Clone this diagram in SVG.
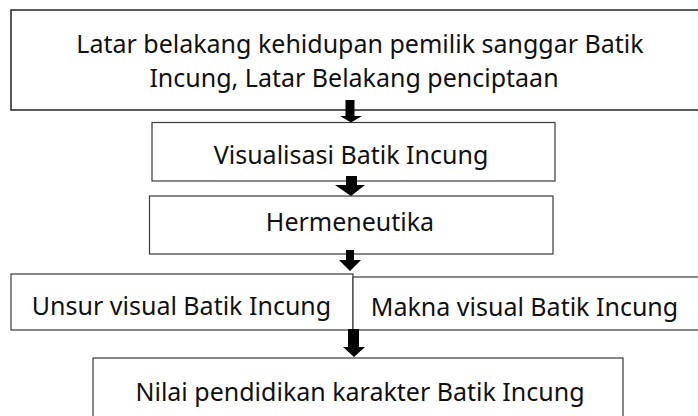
<svg xmlns="http://www.w3.org/2000/svg" width="698" height="416" viewBox="0 0 698 416">
<style>
.box{fill:#fff;stroke:#3a3a3a;stroke-width:1.2}
.top{fill:#fff;stroke:#000;stroke-width:1.3}
.t{font-family:"Noto Sans","Open Sans","DejaVu Sans",sans-serif;font-size:25px;fill:#111;text-anchor:middle}
.arr{fill:#000}
</style>
<rect width="698" height="416" fill="#fff"/>
<g id="n1">
<rect class="top" x="11" y="10" width="700" height="100"/>
<text class="t" x="360" y="52.5">Latar belakang kehidupan pemilik sanggar Batik</text>
<text class="t" x="354" y="87">Incung, Latar Belakang penciptaan</text>
</g>
<g id="n2">
<rect class="box" x="152" y="122.5" width="403" height="58.5"/>
<text class="t" x="351" y="164">Visualisasi Batik Incung</text>
</g>
<g id="n3">
<rect class="box" x="149.5" y="196" width="403.5" height="58"/>
<text class="t" x="350" y="231">Hermeneutika</text>
</g>
<g id="n4">
<rect class="box" x="11" y="274" width="342" height="56"/>
<text class="t" x="181.5" y="315">Unsur visual Batik Incung</text>
</g>
<g id="n5">
<rect class="box" x="353" y="277" width="360" height="53"/>
<text class="t" x="524.5" y="316">Makna visual Batik Incung</text>
</g>
<g id="n6">
<rect class="box" x="93" y="358" width="530" height="70"/>
<text class="t" x="360" y="401">Nilai pendidikan karakter Batik Incung</text>
</g>
<g id="connectors">
<polygon class="arr" points="345.5,100 354.5,100 354.5,116 362,116 351,122.5 340,116 345.5,116"/>
<polygon class="arr" points="346,176 357,176 357,185 365,185 351,196 335,185 346,185"/>
<polygon class="arr" points="346,250 354,250 354,260 361,260 350,271 339,260 346,260"/>
<polygon class="arr" points="348,329 359,329 359,347 365,347 354,357 343,347 348,347"/>
</g>
</svg>
